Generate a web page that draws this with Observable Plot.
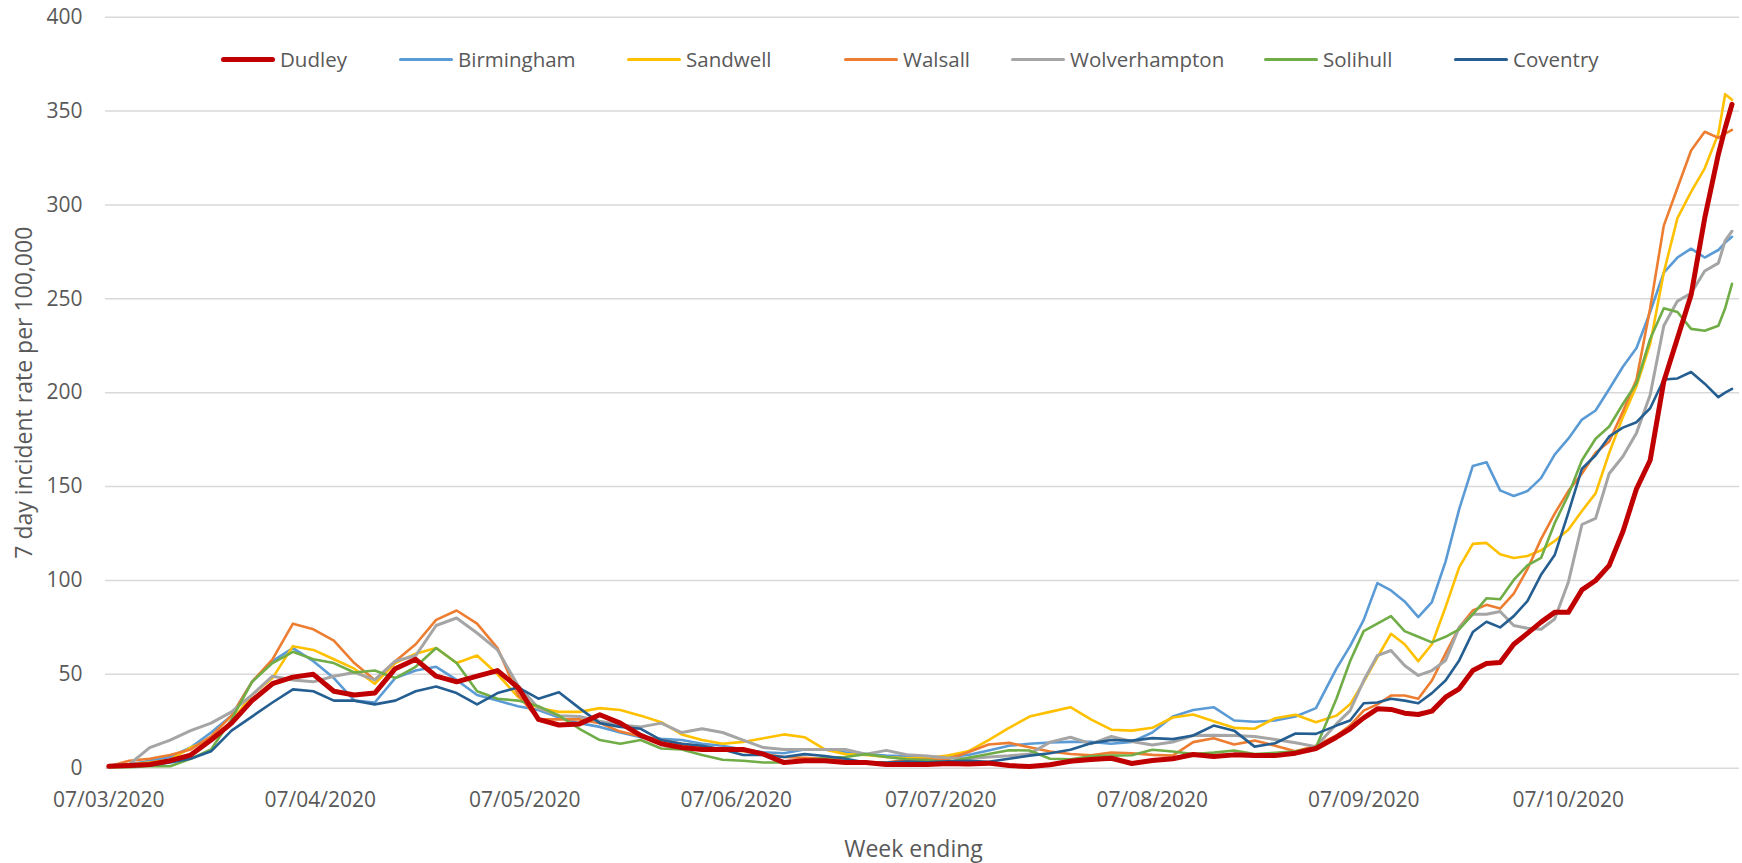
<!DOCTYPE html>
<html>
<head>
<meta charset="utf-8">
<script src="https://cdn.jsdelivr.net/npm/d3@7"></script>
<script src="https://cdn.jsdelivr.net/npm/@observablehq/plot@0.6"></script>
<style>
  body { margin: 0; background: #fff; font-family: "Open Sans", sans-serif; color: #595959; }
  #wrap { position: relative; width: 1742px; height: 863px; }
  #legend { position: absolute; left: 0; top: 44px; width: 1742px; height: 30px; font-size: 20.5px; line-height: 30px; white-space: nowrap; }
  .item { position: absolute; top: 0; display: flex; align-items: center; }
  .sw { display: inline-block; width: 54px; border-radius: 3px; margin-right: 5px; }
</style>
</head>
<body>
<div id="wrap"><div id="legend"></div></div>
<script>
// Day offsets from 07/03/2020
const days = [0,3,6,9,12,15,18,21,24,27,30,33,36,39,42,45,48,51,54,57,
  60,63,66,69,72,75,78,81,84,87,90,93,96,99,102,105,108,111,114,117,
  120,123,126,129,132,135,138,141,144,147,150,153,156,159,162,165,168,171,174,177,
  180,
  182,184,186,188,190,192,194,196,198,200,202,204,206,208,210,212,214,216,218,220,222,224,226,228,230,232,234,236,
  237,238];

const dudley = [1,1.5,2,4,7,15,24,36,45,48.5,50,41,39,40,53,58,49,46,49,52,
  43,26,23,23.6,28.5,24,17.5,13,11,10,10,10,7.5,3,4,4,3,3,2,2,
  2,2.5,2.3,2.7,1.4,0.9,1.8,3.7,4.6,5.3,2.5,4.1,5,7.3,6.2,7.1,6.7,6.7,8,10.5,
  16.5,
  21,26.8,31.6,31.3,29.3,28.6,30.4,37.8,42.3,52,55.8,56.3,66,71.8,77.8,83,83,95,100,108,126,148.8,164,206,229,252,293,327,
  341,353.6];

const birmingham = [1,2,4,6,11,19,28,46,57,64,57,48,36,35,48,52,54,47,39,36,
  33,31,27,24,22,19,16.5,15.6,15,13,12,10,8.5,8,10,10,8.5,7.6,6.7,6.3,
  6,6,7,9.4,12,13,13.7,14,14,13,14,19,27.5,31,32.5,25.4,24.7,25.4,27.5,32,
  53,
  65,79,98.6,94.7,88.8,80.5,88.5,110,138,161,163,148,145,147.6,154.5,167,175.5,185.7,190.5,202,213.8,223.8,243,264,272,276.7,272,276,
  280,283];

const sandwell = [1,2,3,4.5,11,15,25,39,48,65,63,58,53,45,56,61,64,56,60,50,
  38,32,30,30,32,31,28,24.5,18,15,13,14,16,18,16.5,10,7.5,7,6,5.3,
  5.5,6.7,9,15,21.5,27.5,30,32.5,26,20.5,20,21.5,27,28.6,25,21.5,21,26.6,28.5,24.5,
  28,
  34,46,59,71.6,66,57,66,85.8,107,119.5,120,114,112,113,116,121,127,137,146.4,168,187,203.6,226,264,293,307,319.5,338,
  359,356];

const walsall = [1,4,5,7,10,17,28,46,58,77,74,68,56,47,57,66,79,84,77,64,
  39,26,26,26,24,19.5,17,15,13,11.5,10,9,7.5,6,5.5,5,4,3,3,4.5,
  4.6,4.8,8.5,12.6,13.5,11.2,8.9,7.6,6.9,8.3,8,7.1,6.7,13.9,16,12.6,14.7,12,9,12,
  17.4,
  22.7,30.7,34,38.7,38.7,37,46.7,61,75,84,87,85,93,106,122,135.6,147.6,157,168,174,190,207,245,289,309,329,339,335.7,
  338,340];

const wolverhampton = [1.4,2,11,15,20,24,30,39,49,47,46,49,51,47,57,60,76,80,72,63,
  44,32,28,27.5,25,23,22,24,19,21,19,15,11,10,10,10,10,7.5,9.5,7.2,
  6.5,5.5,5,6,6.6,7.6,13.9,16.5,13,16.9,14.2,12.4,13.9,17.4,17.6,17.4,16.9,15.3,13.5,11.5,
  23.6,
  30.7,46.7,60,62.7,54.7,49.4,52,57.4,75,82,82,83.5,76,74.5,74,79.5,99,129.8,133,157,166,178.6,198.8,235.7,248.8,253,264.8,269,
  281,286];

const solihull = [0.5,0.5,1,1,5,10,26,46,56,62,58,56,51,52,48,54,64,56,41,37,
  36,33,28,21,15,13,15,10.5,10,7,4.5,4,3,3,4,5.5,6,7.5,6,4.8,
  4.3,3.2,5.5,7.6,9.6,9.4,5,4.8,6.4,6.7,6.9,9.8,8.9,7.6,8.3,9.4,7.6,8.2,9,11,
  37,
  57,73,77,81,73,70,67,70,74,82,90.5,90,100.3,108,112,130.5,145.5,164,175.5,182,194,205,228.6,245,243,234,233,235.7,
  245,258];

const coventry = [1,1,1.5,3,5,9,20,27.5,35,42,41,36,36,34,36,41,43.5,40,34,40,
  43,37,40.5,32,24,22,21,15,13,12,10,7,7,6,7.5,6.5,5,3,3,3.5,
  3.2,3.7,4,3.4,5,6.7,8,9.8,13.3,15,14.7,16,15.5,17.4,22.7,20,11.5,13.3,18.5,18.3,
  22.7,
  25.4,34.6,35,37,36,34.6,40,46.7,57.4,72.5,78,75,81,89,103,113.5,136,159.5,166.7,176.7,181.4,184.3,191.7,207,207.6,211,204.8,197.6,
  200,202];

const seriesNames = ["Dudley","Birmingham","Sandwell","Walsall","Wolverhampton","Solihull","Coventry"];
const seriesColors = ["#C00000","#5B9BD5","#FFC000","#ED7D31","#A5A5A5","#70AD47","#255E91"];
const tickLabels = ["07/03/2020","07/04/2020","07/05/2020","07/06/2020","07/07/2020","07/08/2020","07/09/2020","07/10/2020"];
const yTicks = [0,50,100,150,200,250,300,350,400];
const xTitle = "Week ending";
const yTitle = "7 day incident rate per 100,000";

// ---- build ----
const seriesValues = [dudley, birmingham, sandwell, walsall, wolverhampton, solihull, coventry];
const START = Date.UTC(2020, 2, 7);
const DAY = 864e5;
const toDate = d => new Date(START + d * DAY);
const rows = seriesNames.flatMap((name, k) =>
  days.map((d, i) => ({ name, date: toDate(d), value: seriesValues[k][i] })));
const tickDates = tickLabels.map(s => { const [dd, mm, yy] = s.split("/").map(Number); return new Date(Date.UTC(yy, mm - 1, dd)); });
const colorOf = Object.fromEntries(seriesNames.map((n, i) => [n, seriesColors[i]]));
const widthOf = n => (n === "Dudley" ? 5 : n === "Wolverhampton" ? 3 : 2.6);
// Dudley drawn last (on top)
const drawOrder = [...seriesNames.slice(1), seriesNames[0]];

const chart = Plot.plot({
  width: 1742,
  height: 863,
  marginLeft: 105,
  marginRight: 3,
  marginTop: 16.7,
  marginBottom: 95.3,
  style: { fontFamily: "'Open Sans', sans-serif", fontSize: "21px", color: "#595959", background: "#ffffff" },
  x: {
    type: "utc",
    domain: [toDate(-0.48), toDate(239.1)],
    ticks: tickDates,
    tickFormat: d3.utcFormat("%d/%m/%Y"),
    tickSize: 0,
    tickPadding: 23.5,
    label: null
  },
  y: { domain: [0, 400], ticks: yTicks, tickSize: 0, tickPadding: 23, label: null },
  marks: [
    Plot.gridY(yTicks, { stroke: "#D9D9D9", strokeOpacity: 1, strokeWidth: 1.5 }),
    ...drawOrder.map(n => Plot.line(rows.filter(r => r.name === n), {
      x: "date", y: "value", stroke: colorOf[n], strokeWidth: widthOf(n),
      strokeLinejoin: "round", strokeLinecap: "round"
    })),
    Plot.text([xTitle], { text: d => d, frameAnchor: "bottom", textAnchor: "middle", lineAnchor: "middle", dy: 81, dx: -9, fontSize: 23, fill: "#595959" }),
    Plot.text([yTitle], { text: d => d, frameAnchor: "left", textAnchor: "middle", lineAnchor: "middle", rotate: -90, dx: -81, fontSize: 23, fill: "#595959" })
  ]
});
document.getElementById("wrap").appendChild(chart);

// legend (item left edges in px)
const legendLeft = [221, 399, 627, 844, 1011, 1264, 1454];
const legend = d3.select("#legend");
seriesNames.forEach((n, i) => {
  const item = legend.append("div").attr("class", "item").style("left", legendLeft[i] + "px");
  item.append("span").attr("class", "sw")
    .style("background", seriesColors[i])
    .style("height", n === "Dudley" ? "5px" : "3px");
  item.append("span").text(n);
});
</script>
</body>
